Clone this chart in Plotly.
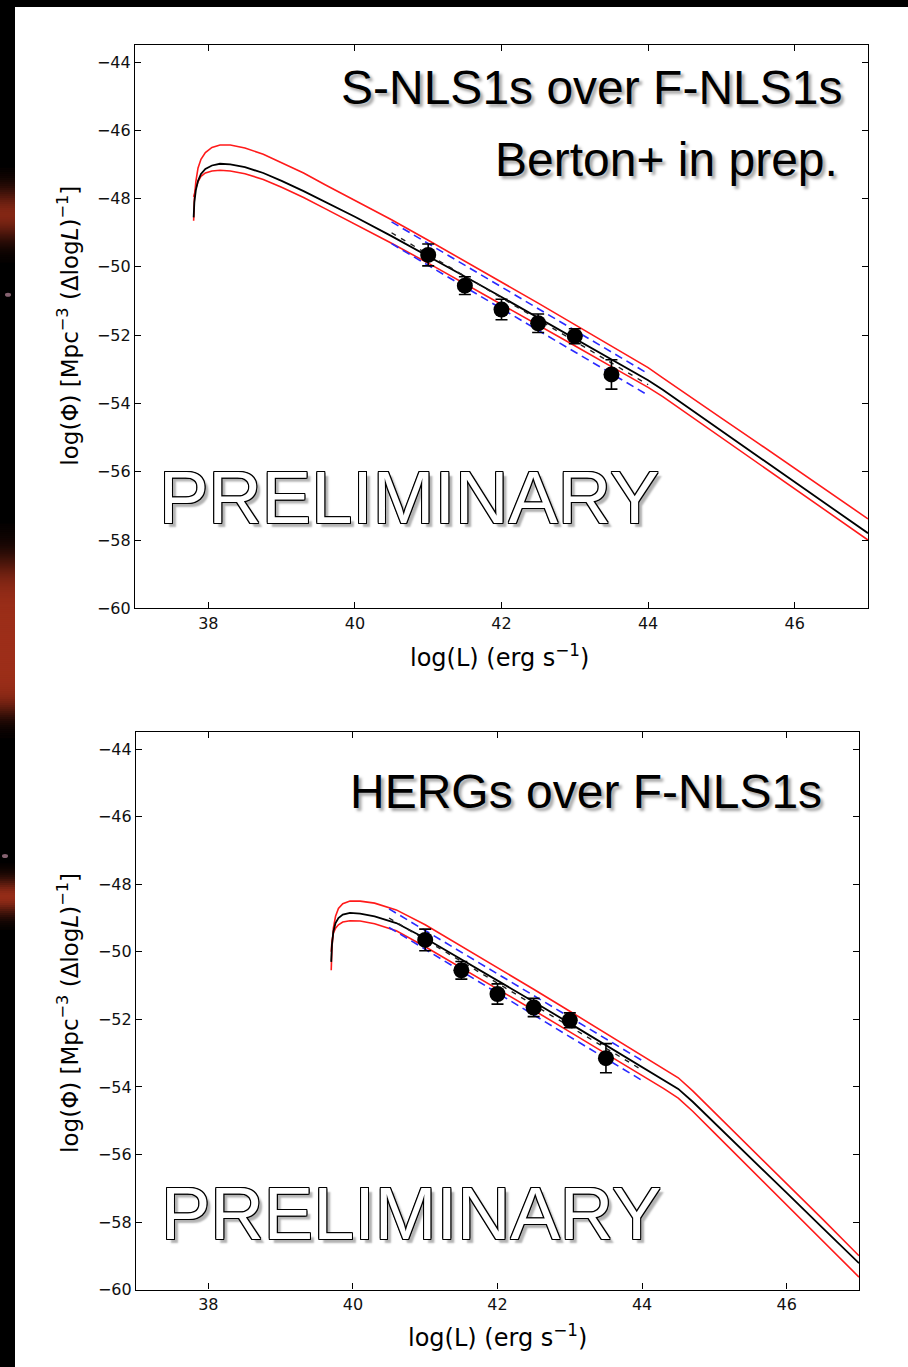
import math
import plotly.graph_objects as go

W, H = 908, 1367
# usable paper height that plotly lays the plot area out on
HP = 1358.5

# ---------------- data: upper panel (S-NLS1s over F-NLS1s) ----------------
L_top = [37.80, 37.81, 37.83, 37.86, 37.90, 37.96, 38.05, 38.16, 38.30, 38.50,
         38.75, 39.00, 39.30, 39.60, 40.00, 40.50, 41.00, 41.50, 42.00, 42.50,
         43.00, 43.50, 44.00, 44.20, 44.50, 45.00, 45.50, 46.00, 46.50, 47.00]
phi_top_model = [-48.55, -48.10, -47.75, -47.48, -47.28, -47.13, -47.03, -46.98, -47.00, -47.08,
                 -47.25, -47.48, -47.78, -48.10, -48.53, -49.10, -49.68, -50.28, -50.88, -51.49,
                 -52.10, -52.71, -53.32, -53.60, -54.05, -54.80, -55.55, -56.30, -57.05, -57.80]
phi_top_hi = [-48.65, -48.00, -47.50, -47.10, -46.85, -46.65, -46.50, -46.43, -46.43, -46.52,
              -46.70, -46.95, -47.25, -47.60, -48.05, -48.62, -49.22, -49.83, -50.44, -51.06,
              -51.69, -52.32, -52.95, -53.25, -53.70, -54.43, -55.16, -55.90, -56.64, -57.38]
phi_top_lo = [-47.95, -47.85, -47.70, -47.50, -47.35, -47.25, -47.19, -47.17, -47.19, -47.27,
              -47.44, -47.67, -47.97, -48.30, -48.74, -49.31, -49.89, -50.49, -51.09, -51.70,
              -52.31, -52.92, -53.53, -53.80, -54.25, -55.00, -55.75, -56.50, -57.25, -58.00]

# ---------------- data: lower panel (HERGs over F-NLS1s) ----------------
L_bot = [39.70, 39.71, 39.73, 39.76, 39.80, 39.86, 39.96, 40.10, 40.30, 40.60,
         41.00, 41.50, 42.00, 42.50, 43.00, 43.50, 44.00, 44.30, 44.50, 44.70,
         45.00, 45.50, 46.00, 46.50, 47.00]
phi_bot_model = [-50.30, -49.80, -49.40, -49.15, -49.00, -48.90, -48.85, -48.87, -48.95, -49.15,
                 -49.60, -50.22, -50.85, -51.48, -52.12, -52.76, -53.40, -53.79, -54.06, -54.44,
                 -55.07, -56.10, -57.14, -58.18, -59.22]
phi_bot_hi = [-50.55, -49.90, -49.30, -48.95, -48.72, -48.58, -48.50, -48.50, -48.56, -48.76,
              -49.20, -49.83, -50.47, -51.11, -51.76, -52.41, -53.06, -53.45, -53.73, -54.12,
              -54.75, -55.80, -56.85, -57.92, -59.00]
phi_bot_lo = [-50.00, -49.70, -49.45, -49.30, -49.20, -49.12, -49.08, -49.09, -49.17, -49.38,
              -49.85, -50.47, -51.10, -51.73, -52.37, -53.01, -53.65, -54.05, -54.33, -54.72,
              -55.36, -56.43, -57.50, -58.57, -59.63]

# ---------------- fit band over the observed range ----------------
L_fit = [40.5, 44.0]
phi_top_fit = [-49.00, -53.45]
phi_top_fit_hi = [-48.68, -53.13]
phi_top_fit_lo = [-49.32, -53.76]
phi_bot_fit = [-49.00, -53.50]
phi_bot_fit_hi = [-48.73, -53.22]
phi_bot_fit_lo = [-49.28, -53.81]

# ---------------- binned F-NLS1 luminosity function ----------------
L_data = [41.0, 41.5, 42.0, 42.5, 43.0, 43.5]
phi_data = [-49.65, -50.55, -51.25, -51.65, -52.03, -53.15]
phi_err = [0.32, 0.26, 0.30, 0.27, 0.22, 0.43]

# ---------------- ticks ----------------
x_tickvals = [38, 40, 42, 44, 46]
x_ticktext = ["38", "40", "42", "44", "46"]
y_tickvals = [-44, -46, -48, -50, -52, -54, -56, -58, -60]
y_ticktext = ["\u221244", "\u221246", "\u221248", "\u221250", "\u221252",
              "\u221254", "\u221256", "\u221258", "\u221260"]

RED = "#ff1a1a"
BLUE = "#2a2aff"


def px(x):
    return x / W


def py(y):
    return 1 - y / HP


fig = go.Figure()


def add_panel(xa, ya, L, model, hi, lo, fit, fit_hi, fit_lo):
    ax = dict(xaxis=xa, yaxis=ya, hoverinfo="skip", showlegend=False)
    fig.add_trace(go.Scatter(x=L, y=hi, mode="lines", line=dict(color=RED, width=1.6), **ax))
    fig.add_trace(go.Scatter(x=L, y=lo, mode="lines", line=dict(color=RED, width=1.6), **ax))
    fig.add_trace(go.Scatter(x=L, y=model, mode="lines", line=dict(color="black", width=1.8), **ax))
    fig.add_trace(go.Scatter(x=L_fit, y=fit_hi, mode="lines",
                             line=dict(color=BLUE, width=1.6, dash="8px,5px"), **ax))
    fig.add_trace(go.Scatter(x=L_fit, y=fit_lo, mode="lines",
                             line=dict(color=BLUE, width=1.6, dash="8px,5px"), **ax))
    fig.add_trace(go.Scatter(x=L_fit, y=fit, mode="lines",
                             line=dict(color="#222", width=1.4, dash="5px,6px"), **ax))
    fig.add_trace(go.Scatter(x=L_data, y=phi_data, mode="markers",
                             marker=dict(color="black", size=16),
                             error_y=dict(type="data", array=phi_err, color="black",
                                          thickness=1.6, width=6), **ax))


add_panel("x", "y", L_top, phi_top_model, phi_top_hi, phi_top_lo,
          phi_top_fit, phi_top_fit_hi, phi_top_fit_lo)
add_panel("x2", "y2", L_bot, phi_bot_model, phi_bot_hi, phi_bot_lo,
          phi_bot_fit, phi_bot_fit_hi, phi_bot_fit_lo)

axis_common = dict(showline=True, linecolor="black", linewidth=1.2, mirror="ticks",
                   ticks="inside", ticklen=6, tickwidth=1, tickcolor="black",
                   showgrid=False, zeroline=False,
                   tickfont=dict(family="DejaVu Sans", size=16, color="#111"))

xax = dict(axis_common, range=[37, 47], tickvals=x_tickvals, ticktext=x_ticktext)
yax = dict(axis_common, range=[-60, -43.5], tickvals=y_tickvals, ticktext=y_ticktext)

# dark slide frame (top band and left strip) around the white card
shapes = [
    dict(type="rect", xref="paper", yref="paper", x0=-0.01, x1=1.01, y0=py(7), y1=1.01,
         fillcolor="black", line=dict(width=0), layer="below"),
    dict(type="rect", xref="paper", yref="paper", x0=-0.01, x1=px(15), y0=-0.03, y1=1.01,
         fillcolor="black", line=dict(width=0), layer="below"),
]


def glow(y):
    a = 0.75 * math.exp(-((y - 215) / 26) ** 2)
    b = 0.9 / (1 + math.exp(-(y - 565) / 12)) / (1 + math.exp(-(712 - y) / 8))
    c = 0.85 * math.exp(-((y - 898) / 18) ** 2)
    return min(1.0, a + b + c)


# warm glow on the slide strip, drawn as overlapping thin bands
for y in range(0, H, 2):
    g = glow(y + 1.5)
    if g > 0.03:
        shapes.append(dict(type="rect", xref="paper", yref="paper",
                           x0=-0.01, x1=px(15), y0=py(y + 3), y1=py(y),
                           fillcolor="rgb(%d,%d,%d)" % (175 * g, 52 * g, 28 * g),
                           line=dict(width=0), layer="below"))
for cx, cy in [(8, 295), (5, 857)]:
    shapes.append(dict(type="circle", xref="paper", yref="paper",
                       x0=px(cx - 3), x1=px(cx + 3), y0=py(cy + 2), y1=py(cy - 2),
                       fillcolor="rgba(190,140,160,0.7)", line=dict(width=0), layer="below"))

title_shadow = "3px 3px 3px rgba(0,0,0,0.35)"
outline = ("1px 0 0 #000, -1px 0 0 #000, 0 1px 0 #000, 0 -1px 0 #000, "
           "1px 1px 0 #000, -1px -1px 0 #000, 1px -1px 0 #000, -1px 1px 0 #000, "
           "4px 4px 2px rgba(0,0,0,0.3)")

annotations = []


def label(text, x, y, size, xanchor="right", color="black", shadow=title_shadow,
          family="Liberation Sans, Arial, sans-serif", angle=0):
    annotations.append(dict(text=text, x=px(x), y=py(y), xref="paper", yref="paper",
                            xanchor=xanchor, yanchor="middle", showarrow=False,
                            textangle=angle,
                            font=dict(family=family, size=size, color=color, shadow=shadow)))


label("S-NLS1s over F-NLS1s", 845, 88, 48)
label("Berton+ in prep.", 840, 160, 48)
label("HERGs over F-NLS1s", 824, 792, 48)
label("PRELIMINARY", 157, 498, 74, xanchor="left", color="white", shadow=outline)
label("PRELIMINARY", 159, 1215, 74, xanchor="left", color="white", shadow=outline)

xtitle = "log(L) (erg s<sup>\u22121</sup>)"
ytitle = "log(\u03a6) [Mpc<sup>\u22123</sup> (\u0394log<i>L</i>)<sup>\u22121</sup>]"
for xc, yc in [(500, 657), (497, 1337)]:
    label(xtitle, xc, yc, 24, xanchor="center", shadow="none", family="DejaVu Sans")
for xc, yc in [(68, 326), (68, 1014)]:
    label(ytitle, xc, yc, 23, xanchor="center", shadow="none", family="DejaVu Sans", angle=-90)

fig.update_layout(
    width=W, height=H,
    margin=dict(l=0, r=0, t=0, b=0),
    paper_bgcolor="white",
    plot_bgcolor="white",
    showlegend=False,
    xaxis=dict(xax, domain=[px(135), px(868)], anchor="y"),
    yaxis=dict(yax, domain=[py(609), py(45)], anchor="x"),
    xaxis2=dict(xax, domain=[px(136), px(859)], anchor="y2"),
    yaxis2=dict(yax, domain=[py(1291), py(733)], anchor="x2"),
    shapes=shapes,
    annotations=annotations,
)

fig.write_html("out.html")
